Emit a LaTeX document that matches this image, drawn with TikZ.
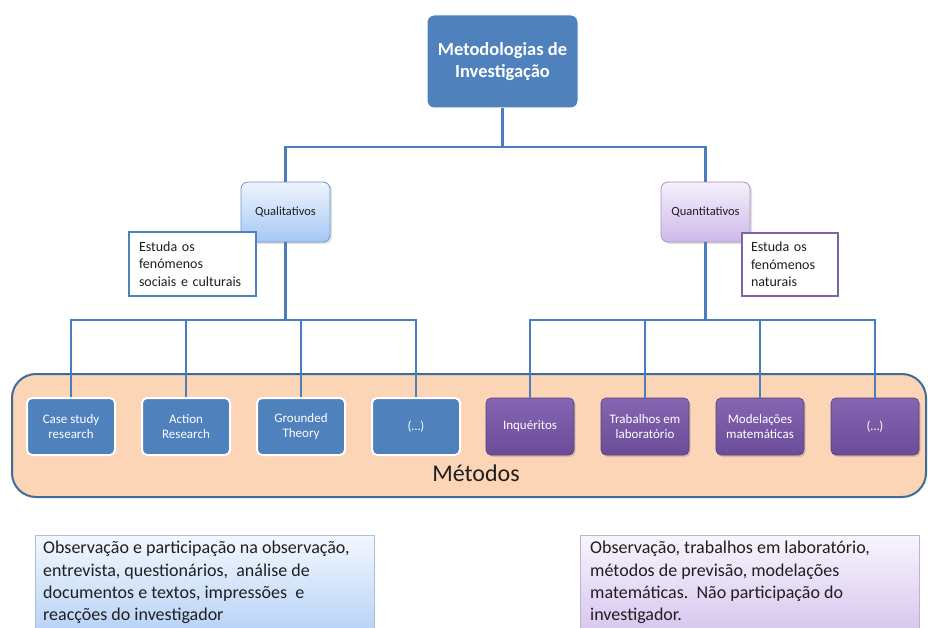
\documentclass[tikz,border=0pt]{standalone}
\usepackage{fontspec}
\setmainfont{Carlito}
\usetikzlibrary{shadows}
\definecolor{accblue}{HTML}{4F81BD}
\definecolor{linkblue}{HTML}{4A7EBB}
\definecolor{peach}{HTML}{FBD5B5}
\definecolor{frameblue}{HTML}{3F6A9A}
\definecolor{accpurple}{HTML}{8064A2}
\definecolor{txtdark}{HTML}{1F1F1F}
\definecolor{qualtop}{HTML}{EEF4FD}
\definecolor{qualbot}{HTML}{A6C8F5}
\definecolor{quanttop}{HTML}{F5F0FB}
\definecolor{quantbot}{HTML}{CDB9EA}
\definecolor{methtop}{HTML}{8665B2}
\definecolor{methbot}{HTML}{6B4C98}
\tikzset{
  x=1pt, y=-1pt,
  link/.style={draw=linkblue, line width=2.4pt},
  topbox/.style={draw=white, line width=1pt, fill=accblue, rounded corners=7pt,
    minimum width=151pt, minimum height=93pt, text=white, align=center,
    font=\fontsize{18.5}{21.5}\selectfont\bfseries},
  catblue/.style={draw=accblue!85, line width=0.8pt, rounded corners=7pt,
    top color=qualtop, bottom color=qualbot,
    minimum width=89pt, minimum height=60pt, text=txtdark,
    font=\fontsize{12.5}{15}\selectfont,
    drop shadow={shadow xshift=2pt, shadow yshift=-2pt, opacity=0.25}},
  catpurple/.style={draw=accpurple!70, line width=0.8pt, rounded corners=7pt,
    top color=quanttop, bottom color=quantbot,
    minimum width=89pt, minimum height=60pt, text=txtdark,
    font=\fontsize{12.5}{15}\selectfont,
    drop shadow={shadow xshift=2pt, shadow yshift=-2pt, opacity=0.25}},
  notebox/.style={fill=white, line width=2pt, align=left, inner sep=0pt,
    text=txtdark, font=\fontsize{14}{17.5}\selectfont},
  methblue/.style={draw=white, line width=2pt, fill=accblue, rounded corners=5pt,
    minimum width=88pt, minimum height=57pt, text=white, align=center,
    font=\fontsize{13}{15}\selectfont},
  methpurple/.style={draw=methbot!80!black, line width=0.6pt, rounded corners=5pt,
    top color=methtop, bottom color=methbot,
    minimum width=88pt, minimum height=57pt, text=white, align=center,
    font=\fontsize{13}{15}\selectfont,
    drop shadow={shadow xshift=1.5pt, shadow yshift=-2pt, opacity=0.3}},
  sumbox/.style={line width=0.8pt, anchor=north west, minimum width=339pt,
    minimum height=110pt, inner sep=0pt},
  sumtext/.style={anchor=north west, inner sep=0pt, align=left, text=txtdark,
    font=\fontsize{18}{22.3}\selectfont}
}
\begin{document}
\begin{tikzpicture}
\useasboundingbox (0,0) rectangle (928,628);

% group frame for the methods
\node[draw=frameblue, line width=2pt, fill=peach, rounded corners=24pt,
  minimum width=914pt, minimum height=123pt] (frame) at (469,435.5) {};
\node[font=\fontsize{24}{28}\selectfont, text=txtdark] (metlabel) at (476,473) {Métodos};

% head and the two categories
\node[topbox] (top) at (502.5,61.5) {Metodologias de\\Investigação};
\node[catblue] (qual) at (285.5,212) {Qualitativos};
\node[catpurple] (quant) at (705.5,212) {Quantitativos};

% tree connectors
\draw[link] (top.south) -- (top.south |- 0,147) -| (qual.north);
\draw[link] (top.south |- 0,147) -| (quant.north);

% methods
\node[methblue] (m1) at (71,426.5) {Case study\\research};
\node[methblue] (m2) at (186,426.5) {Action\\Research};
\node[methblue] (m3) at (301,426.5) {Grounded\\Theory};
\node[methblue] (m4) at (416,426.5) {(…)};
\node[methpurple] (m5) at (530,426.5) {Inquéritos};
\node[methpurple] (m6) at (645,426.5) {Trabalhos em\\laboratório};
\node[methpurple] (m7) at (760,426.5) {Modelações\\matemáticas};
\node[methpurple] (m8) at (875,426.5) {(…)};

\coordinate (qbus) at (qual.south |- 0,320);
\coordinate (nbus) at (quant.south |- 0,320);
\draw[link] (qual.south) -- (qbus);
\draw[link] (m1.north) |- (qbus) -| (m4.north);
\draw[link] (m2.north) -- (m2.north |- qbus);
\draw[link] (m3.north) -- (m3.north |- qbus);
\draw[link] (quant.south) -- (nbus);
\draw[link] (m5.north) |- (nbus) -| (m8.north);
\draw[link] (m6.north) -- (m6.north |- nbus);
\draw[link] (m7.north) -- (m7.north |- nbus);

% notes beside the categories
\node[notebox, draw=accblue, minimum width=127pt, minimum height=64pt,
  text width=107pt] (nqual) at (192.5,264) {Estuda os\\fenómenos\\sociais e culturais};
\node[notebox, draw=accpurple, minimum width=96pt, minimum height=63pt,
  text width=78pt] (nquant) at (790,264.5) {Estuda os\\fenómenos\\naturais};

% summaries
\node[sumbox, draw=accblue!50, top color=qualtop!70!white, bottom color=qualbot!90!white]
  (squal) at (35,535) {};
\node[sumtext] (tqual) at (43,541)
  {Observação e participação na observação,\\entrevista, questionários,\ \ análise de\\documentos e textos, impressões\ \ e\\reacções do investigador};
\node[sumbox, draw=accpurple!50, top color=quanttop!70!white, bottom color=quantbot!90!white]
  (squant) at (580,535) {};
\node[sumtext] (tquant) at (590,541)
  {Observação, trabalhos em laboratório,\\métodos de previsão, modelações\\matemáticas.\ \ Não participação do\\investigador.};
\end{tikzpicture}
\end{document}
